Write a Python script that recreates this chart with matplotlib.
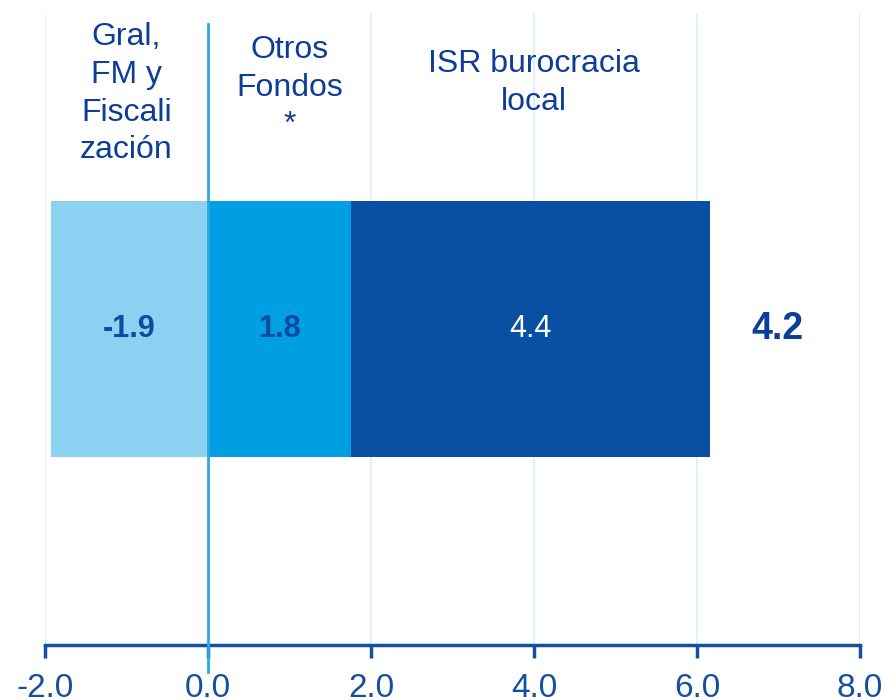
import matplotlib.pyplot as plt

plt.rcParams['font.family'] = ['Liberation Sans', 'DejaVu Sans']

# datos
categorias = ["Gral,\nFM y\nFiscali\nzación", "Otros\nFondos\n*", "ISR burocracia\nlocal"]
valores = [-1.93, 1.76, 4.40]
etiquetas = ["-1.9", "1.8", "4.4"]
colores = ["#8AD1F2", "#009FE3", "#0A50A2"]
color_etiqueta = ["#0E4A9E", "#0E4A9E", "white"]
pesos = ["bold", "bold", "normal"]
ticks_x = [-2, 0, 2, 4, 6, 8]

total = sum(valores)

fig = plt.figure(figsize=(8.85, 7), dpi=100)
ax = fig.add_axes([45/885, 55/700, 815/885, 632/700])

# barras apiladas: negativos desde 0 hacia la izquierda, positivos acumulados
izquierda_pos = 0
posiciones = []
for v, c in zip(valores, colores):
    if v < 0:
        ax.barh(0, v, left=0, height=0.81, color=c, zorder=2)
        posiciones.append(v / 2)
    else:
        ax.barh(0, v, left=izquierda_pos, height=0.81, color=c, zorder=2)
        posiciones.append(izquierda_pos + v / 2)
        izquierda_pos += v

for x, txt, col, w in zip(posiciones, etiquetas, color_etiqueta, pesos):
    ax.text(x, 0, txt, ha='center', va='center', fontsize=22, color=col,
            fontweight=w, zorder=3)

ax.text(izquierda_pos + 0.83, 0, f"{total:.1f}", ha='center', va='center',
        fontsize=27, color="#0A3D9C", fontweight='bold')

# titulos de cada segmento
ax.text(-1.0, 0.97, categorias[0], ha='center', va='top',
        fontsize=23, color="#0D3D99", linespacing=1.33)
ax.text(1.0, 0.93, categorias[1], ha='center', va='top',
        fontsize=23, color="#0D3D99", linespacing=1.33)
ax.text(4.0, 0.885, categorias[2], ha='center', va='top',
        fontsize=23, color="#0D3D99", linespacing=1.33)

ax.set_xlim(-2, 8)
ax.set_ylim(-1, 1)
ax.set_xticks(ticks_x)
ax.set_xticklabels([f"{t:.1f}" for t in ticks_x])
ax.set_yticks([])

# rejilla vertical y linea del cero
for t in ticks_x:
    if t != 0:
        ax.axvline(t, color="#D6F0FA", lw=1.2, zorder=1)
ax.axvline(0, ymin=-0.043, ymax=0.983, color="#29A9E0", lw=2, zorder=4, clip_on=False)

for s in ['top', 'right', 'left']:
    ax.spines[s].set_visible(False)
ax.spines['bottom'].set_color("#1550A0")
ax.spines['bottom'].set_linewidth(2.5)
ax.tick_params(axis='x', direction='out', length=9, width=2.5, color="#1550A0",
               labelsize=24, labelcolor="#1550A0", pad=11)

fig.savefig("out.png", dpi=100)
